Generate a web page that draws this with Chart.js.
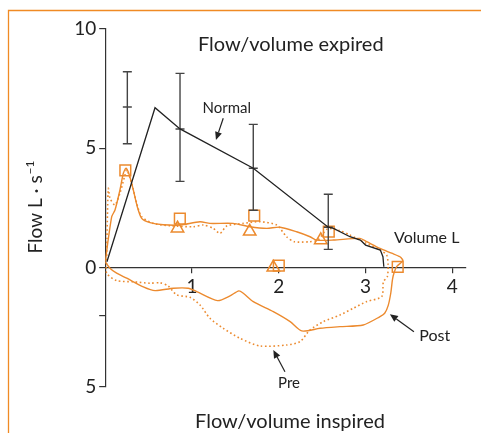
<!DOCTYPE html>
<html>
<head>
<meta charset="utf-8">
<script src="https://cdn.jsdelivr.net/npm/chart.js@4.4.1/dist/chart.umd.min.js"></script>
<style>
  html, body { margin: 0; padding: 0; background: #fff; }
  #wrap { width: 481px; height: 433px; position: relative; }
</style>
</head>
<body>
<div id="wrap"><canvas id="c" width="481" height="433"></canvas></div>
<script>
// ---- Data (volume L, flow L/s) ----
const normalX = [0.02, 0.574, 0.862, 1.706, 2.57, 2.63, 2.82, 2.94, 3.0, 3.17, 3.2, 3.21];
const normalY = [0.24, 6.70, 5.81, 4.16, 1.69, 1.64, 1.29, 1.15, 0.94, 0.73, 0.45, 0.03];

const errX    = [0.255, 0.862, 1.706, 2.57];
const errLow  = [5.19, 3.61, 2.40, 0.76];
const errMid  = [6.73, 5.81, 4.16, 1.69];
const errHigh = [8.21, 8.14, 6.00, 3.07];

const postX = [0.0, 0.075, 0.113, 0.17, 0.209, 0.24, 0.278, 0.324, 0.37, 0.42, 0.516, 0.669, 0.862, 1.092, 1.207, 1.472, 1.667, 1.861, 2.015, 2.206, 2.36, 2.437, 2.628, 2.935, 3.013, 3.166, 3.30, 3.396, 3.43, 3.36, 3.33, 3.31, 3.29, 3.26, 3.22, 3.166, 2.973, 2.705, 2.475, 2.264, 2.131, 1.937, 1.706, 1.591, 1.540, 1.438, 1.294, 1.054, 0.957, 0.785, 0.574, 0.439, 0.248, 0.132, 0.055, 0.0];
const postY = [0.24, 2.13, 2.41, 3.25, 3.95, 4.16, 3.88, 3.25, 2.55, 2.06, 1.88, 1.79, 1.78, 1.92, 1.85, 1.85, 1.71, 1.64, 1.69, 1.50, 1.29, 1.15, 1.15, 1.22, 1.08, 0.80, 0.60, 0.45, 0.28, 0.05, -0.2, -0.5, -1.08, -1.6, -1.92, -2.06, -2.41, -2.48, -2.55, -2.66, -2.27, -1.85, -1.43, -1.08, -0.98, -1.19, -1.39, -1.01, -0.87, -0.87, -0.97, -0.81, -0.45, -0.24, -0.03, 0.24];

const preX = [0.017, 0.02, 0.026, 0.036, 0.055, 0.113, 0.17, 0.228, 0.248, 0.305, 0.363, 0.42, 0.554, 0.747, 1.015, 1.13, 1.245, 1.323, 1.40, 1.591, 1.784, 1.976, 2.09, 2.18, 2.35, 2.45, 2.56, 2.70, 2.82, 3.01, 3.166, 3.243, 3.26, 3.25, 3.205, 3.186, 3.013, 2.858, 2.705, 2.513, 2.359, 2.244, 2.091, 1.784, 1.553, 1.361, 1.207, 1.092, 0.977, 0.824, 0.727, 0.631, 0.516, 0.324, 0.132, 0.017, 0.017];
const preY = [0.31, 1.2, 2.2, 3.32, 2.91, 2.62, 3.12, 3.88, 4.09, 3.53, 2.69, 2.13, 1.85, 1.75, 1.71, 1.78, 1.64, 1.43, 1.74, 1.85, 1.92, 1.78, 1.29, 1.08, 1.08, 1.15, 1.62, 1.55, 1.36, 1.01, 0.73, 0.52, 0.10, -0.39, -0.6, -1.22, -1.43, -1.71, -1.99, -2.27, -2.62, -3.11, -3.25, -3.29, -2.97, -2.55, -2.13, -1.57, -1.25, -1.15, -0.78, -0.64, -0.66, -0.60, -0.55, -0.24, 0.31];

const squareX = [0.232, 0.86, 1.717, 2.576, 2.0, 3.37];
const squareY = [4.07, 2.05, 2.18, 1.50, 0.08, 0.03];
const triX = [0.833, 1.665, 2.484, 1.937];
const triY = [1.64, 1.51, 1.15, 0.0];

const xTicks = [1, 2, 3, 4];
const yTicks = [10, 5, 0, -2, -5];
const yTickText = ['10', '5', '0', '', '5'];

const labels = [
  { text: 'Normal', x: 1.40, y: 6.69, size: 15 },
  { text: 'Volume L', x: 3.704, y: 1.24, size: 16 },
  { text: 'Post', x: 3.796, y: -2.87, size: 16 },
  { text: 'Pre', x: 2.118, y: -4.84, size: 15 },
  { text: 'Flow/volume expired', x: 2.138, y: 9.33, size: 20 },
  { text: 'Flow/volume inspired', x: 2.129, y: -6.44, size: 20 }
];
const arrows = [
  { fx: 1.36, fy: 6.26, tx: 1.276, ty: 5.35 },
  { fx: 3.557, fy: -2.69, tx: 3.28, ty: -1.96 },
  { fx: 2.071, fy: -4.37, tx: 1.937, ty: -3.46 }
];

// ---- Build datasets ----
const ORANGE = '#EC8A2E';
const DARK = '#222';
const TEXT = '#222';
const FONT = 'Lato, "Open Sans", sans-serif';
const zip = (xs, ys) => xs.map((x, i) => ({ x: x, y: ys[i] }));

const datasets = [];
datasets.push({ data: zip(normalX, normalY), showLine: true, borderColor: DARK, borderWidth: 1.3, pointRadius: 0, tension: 0 });
errX.forEach((x, i) => {
  datasets.push({
    data: [{ x: x, y: errLow[i] }, { x: x, y: errMid[i] }, { x: x, y: errHigh[i] }],
    showLine: true, borderColor: '#444', borderWidth: 1.4,
    pointStyle: 'line', pointRadius: 4.5, pointBorderColor: '#444', pointBorderWidth: 1.4, tension: 0
  });
});
datasets.push({ data: zip(postX, postY), showLine: true, borderColor: ORANGE, borderWidth: 1.4, pointRadius: 0, tension: 0.25 });
datasets.push({ data: zip(preX, preY), showLine: true, borderColor: ORANGE, borderWidth: 1.6, borderDash: [1.6, 2.6], pointRadius: 0, tension: 0.25 });
datasets.push({ data: zip(squareX, squareY), showLine: false, pointStyle: 'rect', pointRadius: 7.6, pointBorderColor: ORANGE, pointBackgroundColor: 'rgba(0,0,0,0)', pointBorderWidth: 1.5 });
datasets.push({ data: zip(triX, triY), showLine: false, pointStyle: 'triangle', pointRadius: 7.2, pointBorderColor: ORANGE, pointBackgroundColor: 'rgba(0,0,0,0)', pointBorderWidth: 1.5 });

const overlay = {
  id: 'overlay',
  afterDraw(chart) {
    const ctx = chart.ctx, xs = chart.scales.x, ys = chart.scales.y;
    ctx.save();
    // orange frame
    ctx.strokeStyle = '#F08A24';
    ctx.lineWidth = 1.3;
    ctx.beginPath();
    ctx.moveTo(8.5, 433);
    ctx.lineTo(8.5, 10.5);
    ctx.lineTo(481, 10.5);
    ctx.stroke();
    // labels
    ctx.fillStyle = TEXT;
    ctx.textAlign = 'center';
    ctx.textBaseline = 'middle';
    labels.forEach(l => {
      ctx.font = l.size + 'px ' + FONT;
      ctx.fillText(l.text, xs.getPixelForValue(l.x), ys.getPixelForValue(l.y));
    });
    // arrows
    ctx.strokeStyle = TEXT;
    ctx.lineWidth = 1.2;
    arrows.forEach(a => {
      const x1 = xs.getPixelForValue(a.fx), y1 = ys.getPixelForValue(a.fy);
      const x2 = xs.getPixelForValue(a.tx), y2 = ys.getPixelForValue(a.ty);
      const ang = Math.atan2(y2 - y1, x2 - x1);
      const hl = 8, hw = 3.5;
      const bx = x2 - Math.cos(ang) * hl, by = y2 - Math.sin(ang) * hl;
      ctx.beginPath();
      ctx.moveTo(x1, y1);
      ctx.lineTo(bx, by);
      ctx.stroke();
      ctx.beginPath();
      ctx.moveTo(x2, y2);
      ctx.lineTo(bx + Math.sin(ang) * hw, by - Math.cos(ang) * hw);
      ctx.lineTo(bx - Math.sin(ang) * hw, by + Math.cos(ang) * hw);
      ctx.closePath();
      ctx.fill();
    });
    // y axis title with superscript
    ctx.translate(35, 207);
    ctx.rotate(-Math.PI / 2);
    ctx.textAlign = 'left';
    ctx.textBaseline = 'alphabetic';
    const main = 'Flow L \u00B7 s', sup = '\u22121';
    ctx.font = '19px ' + FONT;
    const w1 = ctx.measureText(main).width;
    ctx.font = '12px ' + FONT;
    const w2 = ctx.measureText(sup).width;
    const start = -(w1 + w2 + 1) / 2;
    ctx.font = '19px ' + FONT;
    ctx.fillText(main, start, 7);
    ctx.font = '12px ' + FONT;
    ctx.fillText(sup, start + w1 + 1, -1);
    ctx.restore();
  }
};

new Chart(document.getElementById('c'), {
  type: 'scatter',
  data: { datasets: datasets },
  options: {
    responsive: false,
    animation: false,
    events: [],
    layout: { padding: { left: 0, top: 29, right: 15.6, bottom: 46.25 } },
    plugins: { legend: { display: false }, tooltip: { enabled: false } },
    scales: {
      x: {
        type: 'linear', min: 0, max: 4.15,
        position: { y: 0 },
        afterFit: s => { s.height = 0; },
        afterBuildTicks: s => { s.ticks = xTicks.map(v => ({ value: v })); },
        grid: { display: true, drawOnChartArea: false, drawTicks: true, tickLength: 5, color: '#333', lineWidth: 1.2 },
        border: { display: true, color: '#333', width: 1.2 },
        ticks: { color: TEXT, font: { family: FONT, size: 19 }, padding: 3, maxRotation: 0, autoSkip: false, callback: v => String(v) }
      },
      y: {
        type: 'linear', min: -5, max: 10,
        position: 'left',
        afterFit: s => { s.width = 105.2; },
        afterBuildTicks: s => { s.ticks = yTicks.map(v => ({ value: v })); },
        grid: { display: true, drawOnChartArea: false, drawTicks: true, tickLength: 6, color: '#333', lineWidth: 1.2 },
        border: { display: true, color: '#333', width: 1.2 },
        ticks: { color: TEXT, font: { family: FONT, size: 19 }, padding: 3, autoSkip: false,
          callback: v => yTickText[yTicks.indexOf(v)] }
      }
    }
  },
  plugins: [overlay]
});
</script>
</body>
</html>
